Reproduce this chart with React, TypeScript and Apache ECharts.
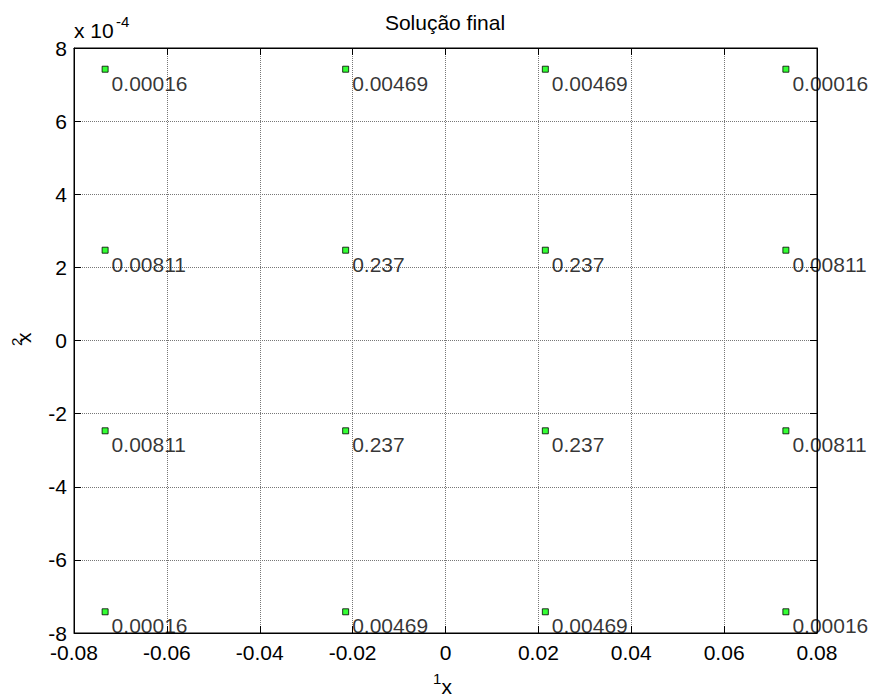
import React, { useEffect, useRef } from "react";
import * as echarts from "echarts";

// Node positions (x1) and (x2, in units of 1e-4)
const xPositions = [-0.0733, -0.0215, 0.0215, 0.0733];
const yPositions = [7.42, 2.47, -2.47, -7.42];
// Weights shown next to each node, row by row (top to bottom)
const weightRows = [
  [0.00016, 0.00469, 0.00469, 0.00016],
  [0.00811, 0.237, 0.237, 0.00811],
  [0.00811, 0.237, 0.237, 0.00811],
  [0.00016, 0.00469, 0.00469, 0.00016],
];
const xMin = -0.08, xMax = 0.08, xStep = 0.02;
const yMin = -8, yMax = 8, yStep = 2;
const titleText = "Solução final";

const FONT = 'Arial, "Liberation Sans", sans-serif';

export default function App() {
  const ref = useRef<HTMLDivElement>(null);
  useEffect(() => {
    if (!ref.current) return;
    const chart = echarts.init(ref.current, undefined, { renderer: "svg" });
    const points: any[] = [];
    yPositions.forEach((y, r) => {
      xPositions.forEach((x, c) => {
        points.push({ value: [x, y], name: String(weightRows[r][c]) });
      });
    });
    const xFmt = (v: number) => {
      const r = Math.round(v * 100) / 100;
      return r === 0 ? "0" : String(r);
    };
    const tickStyle = { inside: true, length: 7, lineStyle: { color: "#000", width: 1 } };
    const lineStyle = { show: true, onZero: false, lineStyle: { color: "#000", width: 1 } };
    const gridLine = { show: true, lineStyle: { color: "#777", type: "dotted", width: 1 } };
    chart.setOption({
      animation: false,
      backgroundColor: "#fff",
      grid: { left: 74, top: 48, width: 743, height: 585, show: true, borderColor: "#000", borderWidth: 1 },
      xAxis: [
        {
          type: "value", min: xMin, max: xMax, interval: xStep, position: "bottom",
          axisLine: lineStyle, axisTick: tickStyle,
          axisLabel: { formatter: xFmt, color: "#000", fontSize: 21, lineHeight: 18, fontFamily: FONT, margin: 10, showMinLabel: true, showMaxLabel: true },
          splitLine: gridLine,
        },
        {
          type: "value", min: xMin, max: xMax, interval: xStep, position: "top",
          axisLine: lineStyle, axisTick: tickStyle, axisLabel: { show: false }, splitLine: { show: false },
        },
      ],
      yAxis: [
        {
          type: "value", min: yMin, max: yMax, interval: yStep, position: "left",
          axisLine: lineStyle, axisTick: tickStyle,
          axisLabel: { color: "#000", fontSize: 21, lineHeight: 16, fontFamily: FONT, margin: 7, padding: [2, 0, 0, 0], showMinLabel: true, showMaxLabel: true },
          splitLine: gridLine,
        },
        {
          type: "value", min: yMin, max: yMax, interval: yStep, position: "right",
          axisLine: lineStyle, axisTick: tickStyle, axisLabel: { show: false }, splitLine: { show: false },
        },
      ],
      series: [
        {
          type: "scatter", xAxisIndex: 0, yAxisIndex: 0, data: points,
          symbol: "rect", symbolSize: 6, clip: false,
          itemStyle: { color: "#00ff00", borderColor: "#000", borderWidth: 1 },
          label: {
            show: true, position: "right", distance: 3, offset: [0, 14],
            formatter: "{b}", color: "#000", fontSize: 21, fontFamily: FONT,
          },
          emphasis: { disabled: true },
        },
      ],
      graphic: [
        { type: "text", x: 445, y: 22.5, style: { text: titleText, font: `21px ${FONT}`, fill: "#000", textAlign: "center", textVerticalAlign: "middle" } },
        { type: "text", x: 74, y: 30, style: { text: "x 10", font: `21px ${FONT}`, fill: "#000", textAlign: "left", textVerticalAlign: "middle" } },
        { type: "text", x: 116, y: 21, style: { text: "-4", font: `15px ${FONT}`, fill: "#000", textAlign: "left", textVerticalAlign: "middle" } },
        { type: "text", x: 433, y: 678, style: { text: "1", font: `15px ${FONT}`, fill: "#000", textAlign: "left", textVerticalAlign: "middle" } },
        { type: "text", x: 441.5, y: 686, style: { text: "x", font: `21px ${FONT}`, fill: "#000", textAlign: "left", textVerticalAlign: "middle" } },
        {
          type: "group", x: 25.5, y: 338, rotation: Math.PI / 2,
          children: [
            { type: "text", x: -5, y: -1.8, style: { text: "x", font: `21px ${FONT}`, fill: "#000", textAlign: "left", textVerticalAlign: "middle" } },
            { type: "text", x: -8, y: -9.5, style: { text: "2", font: `15px ${FONT}`, fill: "#000", textAlign: "left", textVerticalAlign: "middle" } },
          ],
        },
      ],
    });
    return () => chart.dispose();
  }, []);
  return <div ref={ref} style={{ position: "absolute", left: 0, top: 0, width: 874, height: 697 }} />;
}
